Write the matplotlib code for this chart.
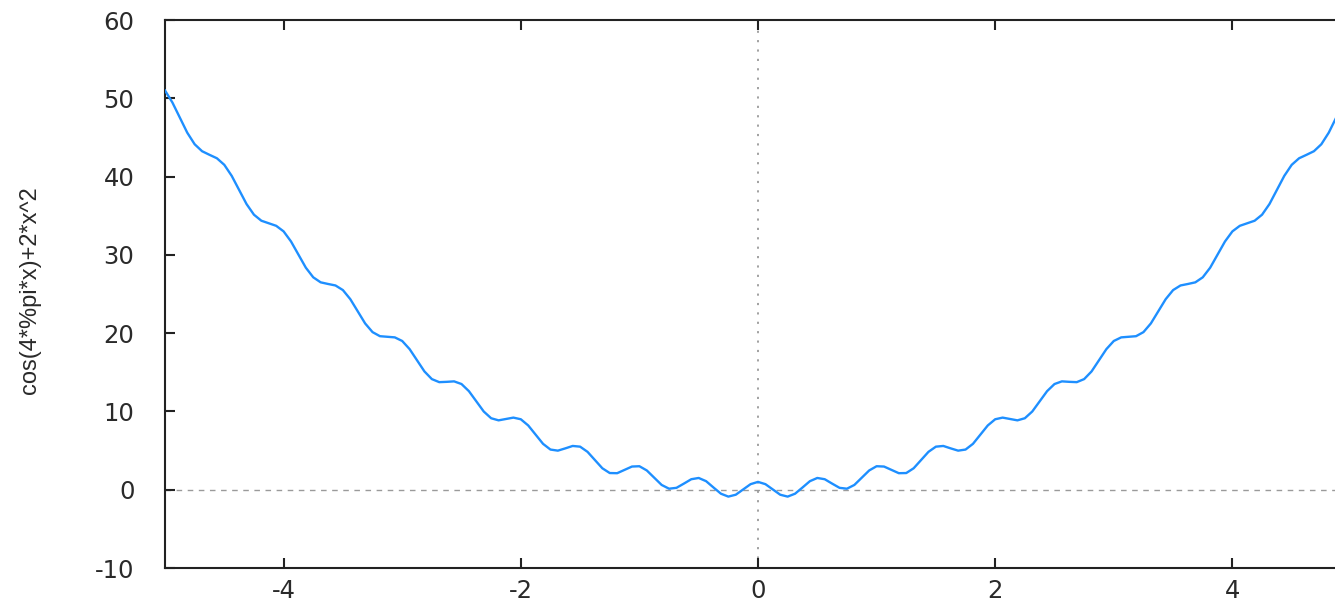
import matplotlib
matplotlib.use("Agg")
import matplotlib.pyplot as plt

# sample positions, step 1/16 from -5 to 5
x_start = -5.0
x_step = 0.0625

# curve values, left to right
y_vals = [
    51.00, 49.46, 47.53, 45.61, 44.13, 43.24, 42.78, 42.34,
    41.50, 40.09, 38.28, 36.49, 35.13, 34.36, 34.03, 33.71,
    33.00, 31.71, 30.03, 28.36, 27.13, 26.49, 26.28, 26.09,
    25.50, 24.34, 22.78, 21.24, 20.13, 19.61, 19.53, 19.46,
    19.00, 17.96, 16.53, 15.11, 14.13, 13.74, 13.78, 13.84,
    13.50, 12.59, 11.28, 9.99, 9.13, 8.86, 9.03, 9.21,
    9.00, 8.21, 7.03, 5.86, 5.13, 4.99, 5.28, 5.59,
    5.50, 4.84, 3.78, 2.74, 2.13, 2.11, 2.53, 2.96,
    3.00, 2.46, 1.53, 0.61, 0.13, 0.24, 0.78, 1.34,
    1.50, 1.09, 0.28, -0.51, -0.88, -0.64, 0.03, 0.71,
    1.00,
    0.71, 0.03, -0.64, -0.88, -0.51, 0.28, 1.09, 1.50,
    1.34, 0.78, 0.24, 0.13, 0.61, 1.53, 2.46, 3.00,
    2.96, 2.53, 2.11, 2.13, 2.74, 3.78, 4.84, 5.50,
    5.59, 5.28, 4.99, 5.13, 5.86, 7.03, 8.21, 9.00,
    9.21, 9.03, 8.86, 9.13, 9.99, 11.28, 12.59, 13.50,
    13.84, 13.78, 13.74, 14.13, 15.11, 16.53, 17.96, 19.00,
    19.46, 19.53, 19.61, 20.13, 21.24, 22.78, 24.34, 25.50,
    26.09, 26.28, 26.49, 27.13, 28.36, 30.03, 31.71, 33.00,
    33.71, 34.03, 34.36, 35.13, 36.49, 38.28, 40.09, 41.50,
    42.34, 42.78, 43.24, 44.13, 45.61, 47.53, 49.46, 51.00,
]
x_vals = [x_start + i * x_step for i in range(len(y_vals))]

x_ticks = [-4, -2, 0, 2, 4]
y_ticks = [-10, 0, 10, 20, 30, 40, 50, 60]
y_label = "cos(4*%pi*x)+2*x^2"

fig = plt.figure(figsize=(13.35, 6.03), dpi=100)
# right edge of the frame sits just outside the picture, as in the reference
ax = fig.add_axes([165 / 1335, 35 / 603, 1186 / 1335, 548 / 603])

ax.axhline(0, color="#9a9a9a", lw=1.0, ls=(0, (4, 4)), zorder=1)
ax.axvline(0, color="#9a9a9a", lw=1.3, ls=(0, (1.2, 4)), zorder=1)
ax.plot(x_vals, y_vals, color="#1e8fff", lw=1.7, zorder=3)

ax.set_xlim(-5, 5)
ax.set_ylim(-10, 60)
ax.set_xticks(x_ticks)
ax.set_yticks(y_ticks)
ax.set_xticklabels([str(t) for t in x_ticks])
ax.set_yticklabels([str(t) for t in y_ticks])

for s in ax.spines.values():
    s.set_linewidth(1.5)
    s.set_color("#222222")

ax.tick_params(direction="in", length=7, width=1.5, color="#222222",
               top=True, right=True, labelsize=17.5, labelcolor="#2a2a2a")
ax.tick_params(axis="y", pad=22)
ax.tick_params(axis="x", pad=8)

fig.text(30 / 1335, 1 - 290 / 603, y_label, rotation=90, ha="center",
         va="center", fontsize=17, family="Liberation Sans", color="#2a2a2a")

fig.savefig("out.png", dpi=100)
